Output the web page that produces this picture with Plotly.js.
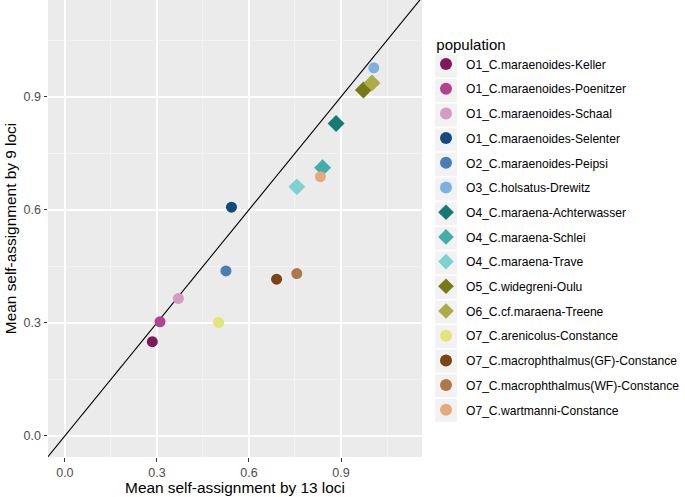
<!DOCTYPE html>
<html>
<head>
<meta charset="utf-8">
<script src="https://cdn.plot.ly/plotly-3.0.1.min.js"></script>
<style>html,body{margin:0;padding:0;background:#fff}#chart{width:685px;height:497px}</style>
</head>
<body>
<div id="chart"></div>
<script>
const populations = [
  "O1_C.maraenoides-Keller",
  "O1_C.maraenoides-Poenitzer",
  "O1_C.maraenoides-Schaal",
  "O1_C.maraenoides-Selenter",
  "O2_C.maraenoides-Peipsi",
  "O3_C.holsatus-Drewitz",
  "O4_C.maraena-Achterwasser",
  "O4_C.maraena-Schlei",
  "O4_C.maraena-Trave",
  "O5_C.widegreni-Oulu",
  "O6_C.cf.maraena-Treene",
  "O7_C.arenicolus-Constance",
  "O7_C.macrophthalmus(GF)-Constance",
  "O7_C.macrophthalmus(WF)-Constance",
  "O7_C.wartmanni-Constance"
];
const loci13 = [0.285, 0.310, 0.370, 0.543, 0.525, 1.007, 0.884, 0.840, 0.756, 0.973, 1.001, 0.501, 0.690, 0.756, 0.833];
const loci9  = [0.250, 0.303, 0.365, 0.607, 0.438, 0.977, 0.829, 0.712, 0.661, 0.918, 0.937, 0.301, 0.416, 0.431, 0.688];
const symbols = ["circle","circle","circle","circle","circle","circle","diamond","diamond","diamond","diamond","diamond","circle","circle","circle","circle"];
const colors = ["#7e1a57","#b3438f","#d49cc3","#134a7e","#4a7db4","#7fb0e2","#147a74","#40aeaa","#7ed2cf","#767a14","#abab48","#e3e47c","#7a4313","#ae7849","#e4aa7b"];
const ticks = [0.0, 0.3, 0.6, 0.9];
const tickText = ["0.0", "0.3", "0.6", "0.9"];
const minorTicks = [0.15, 0.45, 0.75, 1.05];
const refLine = [-0.1, 1.3];

const traces = [{
  x: refLine, y: refLine, mode: "lines", showlegend: false, hoverinfo: "skip",
  line: {color: "#000000", width: 1.1}
}];
populations.forEach((p, i) => {
  traces.push({
    x: [loci13[i]], y: [loci9[i]], mode: "markers", name: p,
    legendgroup: "g" + i,
    marker: {symbol: symbols[i], color: colors[i], size: symbols[i] === "diamond" ? 13 : 11, line: {width: 0}}
  });
});

// grey legend key boxes (ggplot style)
const W = 685, H = 497;
const shapes = populations.map((p, i) => {
  const cy = 66 + i * 24.6;
  return {
    type: "rect", xref: "paper", yref: "paper", layer: "below",
    x0: (435 - 48) / 374, x1: (457 - 48) / 374,
    y0: (457 - (cy + 11.5)) / 457, y1: (457 - (cy - 11.5)) / 457,
    fillcolor: "#f2f2f2", line: {width: 0}
  };
});

const axisCommon = {
  showgrid: true, gridcolor: "#ffffff", gridwidth: 1.4,
  zeroline: false, showline: false,
  ticks: "outside", ticklen: 3.5, tickcolor: "#333333", tickwidth: 1,
  tickvals: ticks, ticktext: tickText,
  tickfont: {family: "Liberation Sans, Arial, sans-serif", size: 12.5, color: "#4d4d4d"},
  minor: {tickvals: minorTicks, showgrid: true, gridcolor: "#f6f6f6", gridwidth: 0.7, ticks: ""}
};

const layout = {
  width: W, height: H,
  margin: {l: 48, r: 263, t: 0, b: 40},
  paper_bgcolor: "#ffffff", plot_bgcolor: "#ebebeb",
  font: {family: "Liberation Sans, Arial, sans-serif", color: "#000000"},
  shapes: shapes,
  xaxis: Object.assign({}, axisCommon, {
    range: [-0.055, 1.164],
    title: {text: "Mean self-assignment by 13 loci", font: {size: 15.4, color: "#000"}, standoff: 0}
  }),
  yaxis: Object.assign({}, axisCommon, {
    range: [-0.056, 1.157],
    title: {text: "Mean self-assignment by 9 loci", font: {size: 15.4, color: "#000"}, standoff: 3}
  }),
  legend: {
    xref: "container", yref: "container",
    x: 426 / W, xanchor: "left", y: 1 - 30 / H, yanchor: "top",
    title: {text: "&nbsp;&nbsp;population", font: {size: 15}},
    font: {size: 12.1, color: "#000"},
    tracegroupgap: 5.7, itemsizing: "constant",
    maxheight: 480,
    bgcolor: "rgba(0,0,0,0)"
  },
  showlegend: true
};

Plotly.newPlot("chart", traces, layout, {displayModeBar: false, staticPlot: true});
</script>
</body>
</html>
